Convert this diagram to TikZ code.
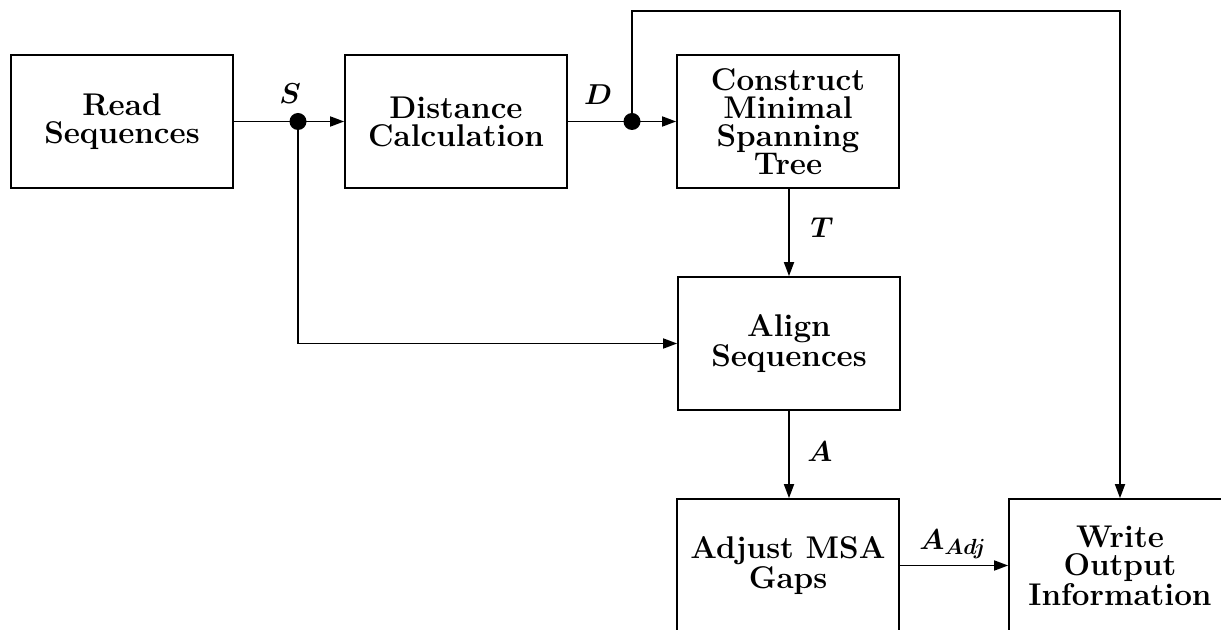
\documentclass[tikz,border=0pt]{standalone}
\usepackage{bm}
\usetikzlibrary{arrows.meta}
\begin{document}
\begin{tikzpicture}[x=0.5pt,y=-0.5pt,
  blk/.style={draw, line width=0.85pt, minimum width=111pt, minimum height=66.5pt, align=center, font=\fontsize{15.7}{14}\selectfont\bfseries, inner sep=2pt},
  arr/.style={line width=0.85pt, -{Triangle[length=7pt,width=5pt]}},
  dotj/.style={circle, fill, inner sep=0pt, minimum size=8.5pt},
  lbl/.style={font=\fontsize{15.7}{16}\selectfont}]
\useasboundingbox (0,0) rectangle (1221,630);
\clip (0,0) rectangle (1221,630);
\node[blk] (read) at (122,121.5) {Read\\Sequences};
\node[blk] (dist) at (456,121.5) {Distance\\Calculation};
\node[blk] (mst) at (788,121.5) {Construct\\Minimal\\Spanning\\Tree};
\node[blk] (align) at (789,343.5) {Align\\Sequences};
\node[blk] (adj) at (788,565.5) {Adjust MSA\\Gaps};
\node[blk] (write) at (1120,565.5) {Write\\Output\\Information};
\node[dotj] (jS) at (298,121.5) {};
\node[dotj] (jD) at (632,121.5) {};
\coordinate (tr) at (1120,11);
\draw[arr] (read.east) -- (dist.west);
\draw[arr] (dist.east) -- (mst.west);
\draw[arr] (jS.center) |- (align.west);
\draw[arr] (jD.center) |- (tr) -- (write.north);
\draw[arr] (mst.south -| align.north) -- (align.north);
\draw[arr] (align.south) -- (align.south |- adj.north);
\draw[arr] (adj.east) -- (write.west);
\node[lbl] (lS) at (290,94) {$\bm{S}$};
\node[lbl] (lD) at (598,95) {$\bm{D}$};
\node[lbl] (lT) at (822,228) {$\bm{T}$};
\node[lbl] (lA) at (820,452) {$\bm{A}$};
\node[lbl] (lAadj) at (953,544) {$\bm{A}_{\bm{Adj}}$};
\end{tikzpicture}
\end{document}
